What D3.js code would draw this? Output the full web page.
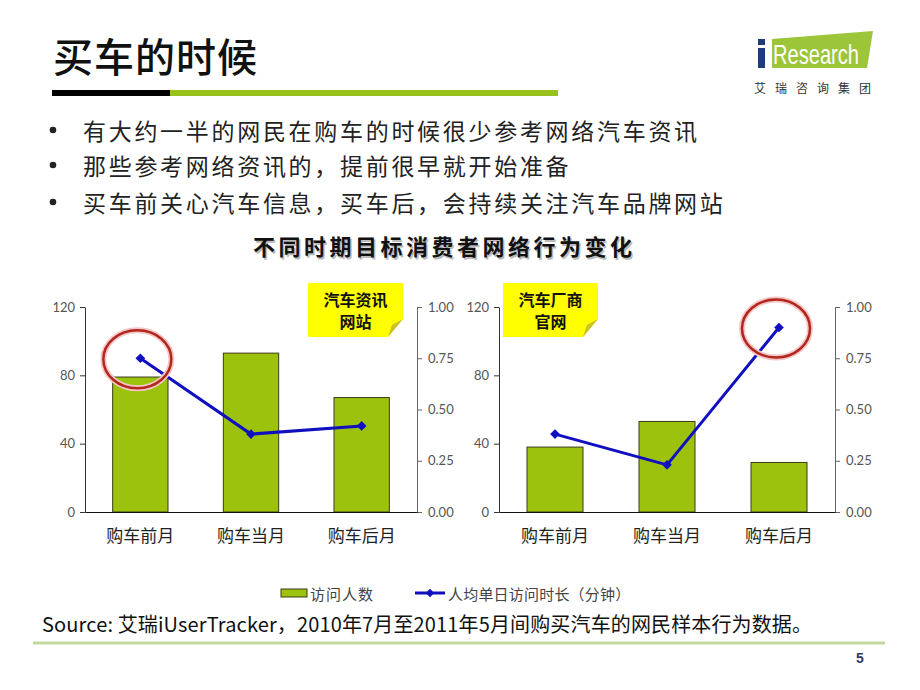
<!DOCTYPE html>
<html>
<head>
<meta charset="utf-8">
<script src="https://cdn.jsdelivr.net/npm/d3@7"></script>
<style>
  body { margin: 0; background: #fff; }
  svg { display: block; font-family: "Noto Sans CJK SC", "Noto Sans", sans-serif; }
  .tick text { font-family: Lato, "Liberation Sans", sans-serif; font-size: 13px; fill: #555; }
  .cat .tick text { font-family: "Noto Sans CJK SC", sans-serif; font-size: 17px; fill: #222; }
</style>
</head>
<body>
<div id="chart"></div>
<script>
// --- data ---
const categories = ['购车前月', '购车当月', '购车后月'];
const newsVisitors = [79, 93, 67];        // 汽车资讯网站 访问人数
const newsDuration = [0.75, 0.38, 0.42];  // 汽车资讯网站 人均单日访问时长（分钟）
const oemVisitors = [38, 53, 29];         // 汽车厂商官网 访问人数
const oemDuration = [0.38, 0.23, 0.90];   // 汽车厂商官网 人均单日访问时长（分钟）
const leftTicks = [0, 40, 80, 120];
const rightTicks = [0, 0.25, 0.5, 0.75, 1];
const bullets = [
  '有大约一半的网民在购车的时候很少参考网络汽车资讯',
  '那些参考网络资讯的，提前很早就开始准备',
  '买车前关心汽车信息，买车后，会持续关注汽车品牌网站'
];
const legendLabels = ['访问人数', '人均单日访问时长（分钟）'];

const GREEN = '#9cc20e';
const BLUE = '#1010c0';

const svg = d3.select('#chart').append('svg')
  .attr('width', 920)
  .attr('height', 690);

// Header
svg.append('text')
  .attr('x', 53).attr('y', 55)
  .attr('dominant-baseline', 'central')
  .attr('font-size', 40)
  .attr('font-weight', 500)
  .attr('letter-spacing', 1)
  .attr('fill', '#111')
  .text('买车的时候');

svg.append('rect').attr('x', 52).attr('y', 90).attr('width', 118).attr('height', 6).attr('fill', '#000');
svg.append('rect').attr('x', 170).attr('y', 90).attr('width', 388).attr('height', 6).attr('fill', '#99c21c');

// Logo
const logo = svg.append('g');
logo.append('polygon')
  .attr('points', '772,39 873,31 867,68 772,68')
  .attr('fill', '#9cc53a');
logo.append('rect').attr('x', 758).attr('y', 48).attr('width', 7).attr('height', 20).attr('fill', '#1d3c78');
logo.append('rect').attr('x', 758).attr('y', 39).attr('width', 7).attr('height', 6).attr('fill', '#1d3c78');
logo.append('text')
  .attr('x', 773).attr('y', 64)
  .attr('font-family', '"Liberation Sans", sans-serif')
  .attr('font-size', 28)
  .attr('textLength', 86).attr('lengthAdjust', 'spacingAndGlyphs')
  .attr('fill', '#fff')
  .text('Research');
logo.append('text')
  .attr('x', 754).attr('y', 87)
  .attr('dominant-baseline', 'central')
  .attr('font-size', 12)
  .attr('textLength', 117)
  .attr('fill', '#333')
  .text('艾瑞咨询集团');

// Bullets
bullets.forEach((b, i) => {
  const cy = [130, 165, 202][i];
  svg.append('circle').attr('cx', 53).attr('cy', cy).attr('r', 3.3).attr('fill', '#222');
  svg.append('text')
    .attr('x', 83).attr('y', cy)
    .attr('dominant-baseline', 'central')
    .attr('font-size', 23)
    .attr('letter-spacing', 2.7)
    .attr('fill', '#222')
    .text(b);
});

// Chart title with soft shadow
['#bbb', '#111'].forEach((c, i) => {
  svg.append('text')
    .attr('x', 253 + (i ? 0 : 1.5)).attr('y', 245 + (i ? 0 : 1.5))
    .attr('dominant-baseline', 'central')
    .attr('font-size', 22)
    .attr('font-weight', 'bold')
    .attr('letter-spacing', 3.5)
    .attr('fill', c)
    .text('不同时期目标消费者网络行为变化');
});

function drawPanel(cfg) {
  const { left, right, visitors, duration, note, noteX, highlight } = cfg;
  const top = 307, bottom = 512;

  const x = d3.scaleBand().domain(categories).range([left, right])
    .paddingInner(0.5).paddingOuter(0.25);
  const yL = d3.scaleLinear().domain([0, 120]).range([bottom, top]);
  const yR = d3.scaleLinear().domain([0, 1]).range([bottom, top]);

  const g = svg.append('g');

  // bars
  g.selectAll('.bar')
    .data(visitors)
    .join('rect')
    .attr('x', (d, i) => x(categories[i]))
    .attr('y', d => yL(d))
    .attr('width', x.bandwidth())
    .attr('height', d => yL(0) - yL(d))
    .attr('fill', GREEN)
    .attr('stroke', '#3b3b18')
    .attr('stroke-width', 1);

  // axes
  const axL = g.append('g')
    .attr('transform', `translate(${left},0)`)
    .call(d3.axisLeft(yL).tickValues(leftTicks).tickSize(5).tickSizeOuter(0).tickPadding(5));
  axL.selectAll('path, line').attr('stroke', '#333');

  const axR = g.append('g')
    .attr('transform', `translate(${right},0)`)
    .call(d3.axisRight(yR).tickValues(rightTicks).tickFormat(d3.format('.2f')).tickSize(5).tickSizeOuter(0).tickPadding(6));
  axR.selectAll('path, line').attr('stroke', '#666');

  const axB = g.append('g')
    .attr('class', 'cat')
    .attr('transform', `translate(0,${bottom})`)
    .call(d3.axisBottom(x).tickSize(0).tickPadding(18));
  axB.select('.domain').attr('stroke', '#111');

  // line
  const cx = i => x(categories[i]) + x.bandwidth() / 2;
  g.append('path')
    .datum(duration)
    .attr('fill', 'none')
    .attr('stroke', BLUE)
    .attr('stroke-width', 3)
    .attr('d', d3.line().x((d, i) => cx(i)).y(d => yR(d)));

  g.selectAll('.pt')
    .data(duration)
    .join('path')
    .attr('transform', (d, i) => `translate(${cx(i)},${yR(d)})`)
    .attr('d', d3.symbol(d3.symbolDiamond2, 60))
    .attr('fill', BLUE);

  // highlight ellipse
  const hx = cx(highlight), hy = yR(duration[highlight]);
  g.append('ellipse')
    .attr('cx', hx - 3).attr('cy', hy + 1).attr('rx', 34).attr('ry', 29)
    .attr('fill', 'none').attr('stroke', '#f4c6c6').attr('stroke-width', 6);
  g.append('ellipse')
    .attr('cx', hx - 3).attr('cy', hy + 1).attr('rx', 34).attr('ry', 29)
    .attr('fill', 'none').attr('stroke', '#b3261e').attr('stroke-width', 2.5);

  // sticky note
  const nx = noteX, ny = 283, nw = 95, nh = 54;
  g.append('path')
    .attr('d', `M${nx},${ny}H${nx + nw}V${ny + nh - 18}L${nx + nw - 15},${ny + nh}H${nx}Z`)
    .attr('fill', '#ffff00');
  g.append('path')
    .attr('d', `M${nx + nw},${ny + nh - 18}L${nx + nw - 15},${ny + nh}L${nx + nw - 11},${ny + nh - 12}Z`)
    .attr('fill', '#c9c02a');
  note.forEach((t, i) => {
    g.append('text')
      .attr('x', nx + nw / 2).attr('y', ny + 16 + i * 22)
      .attr('text-anchor', 'middle')
      .attr('dominant-baseline', 'central')
      .attr('font-size', 16)
      .attr('font-weight', 'bold')
      .attr('fill', '#111')
      .text(t);
  });
}

drawPanel({ left: 85, right: 417, visitors: newsVisitors, duration: newsDuration,
  note: ['汽车资讯', '网站'], noteX: 308, highlight: 0 });
drawPanel({ left: 499, right: 835, visitors: oemVisitors, duration: oemDuration,
  note: ['汽车厂商', '官网'], noteX: 503, highlight: 2 });

// Legend
const lg = svg.append('g');
lg.append('rect').attr('x', 281).attr('y', 589).attr('width', 26).attr('height', 8)
  .attr('fill', GREEN).attr('stroke', '#3b3b18');
lg.append('text').attr('x', 310).attr('y', 593).attr('dominant-baseline', 'central')
  .attr('font-size', 15).attr('letter-spacing', 1).attr('fill', '#444').text(legendLabels[0]);
lg.append('line').attr('x1', 415).attr('x2', 445).attr('y1', 593).attr('y2', 593)
  .attr('stroke', BLUE).attr('stroke-width', 3);
lg.append('path').attr('transform', 'translate(430,593)')
  .attr('d', d3.symbol(d3.symbolDiamond2, 45)).attr('fill', BLUE);
lg.append('text').attr('x', 448).attr('y', 593).attr('dominant-baseline', 'central')
  .attr('font-size', 15).attr('letter-spacing', 0.2).attr('fill', '#444').text(legendLabels[1]);

// Source + footer
svg.append('text')
  .attr('x', 42).attr('y', 623)
  .attr('dominant-baseline', 'central')
  .attr('font-size', 20)
  .attr('textLength', 770).attr('lengthAdjust', 'spacing')
  .attr('fill', '#111')
  .text('Source: 艾瑞iUserTracker，2010年7月至2011年5月间购买汽车的网民样本行为数据。');

svg.append('line').attr('x1', 33).attr('x2', 885).attr('y1', 643).attr('y2', 643)
  .attr('stroke', '#c4d79c').attr('stroke-width', 3);

svg.append('text')
  .attr('x', 860).attr('y', 658)
  .attr('text-anchor', 'middle').attr('dominant-baseline', 'central')
  .attr('font-family', '"Liberation Sans", sans-serif')
  .attr('font-size', 14).attr('font-weight', 'bold')
  .attr('fill', '#2f3a6b')
  .text('5');
</script>
</body>
</html>
